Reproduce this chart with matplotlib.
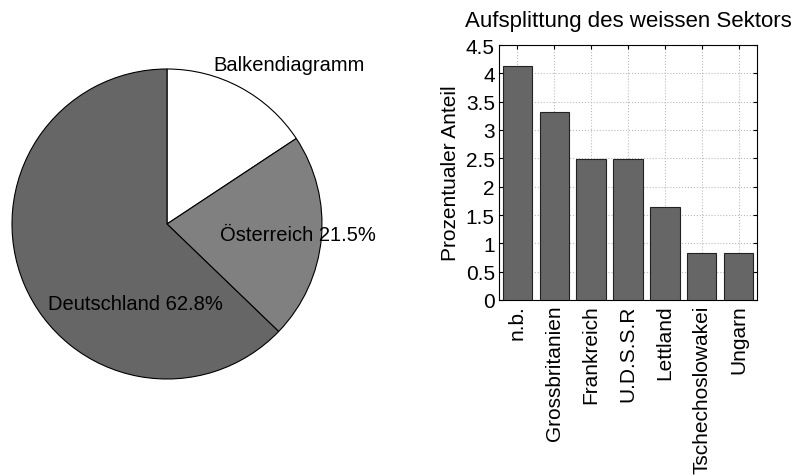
import numpy as np
import matplotlib.pyplot as plt

plt.rcParams['font.family'] = ['Liberation Sans', 'DejaVu Sans']

# Tortendiagramm
pie_names = ['Balkendiagramm', 'Österreich', 'Deutschland']
pie_values = [15.7, 21.5, 62.8]
pie_colors = ['#ffffff', '#808080', '#666666']

# Aufsplittung des weissen Sektors
bar_names = ['n.b.', 'Grossbritanien', 'Frankreich', 'U.D.S.S.R', 'Lettland',
             'Tschechoslowakei', 'Ungarn']
bar_values = [4.13, 3.31, 2.48, 2.48, 1.65, 0.83, 0.83]

fig = plt.figure(figsize=(8, 4.77), dpi=100)

# pie
ax1 = fig.add_axes([12 / 800, (477 - 225 - 155) / 477, 310 / 800, 310 / 477])
ax1.pie(pie_values, colors=pie_colors, startangle=90, counterclock=False,
        radius=1, wedgeprops=dict(edgecolor='black', linewidth=0.8))
ax1.set_xlim(-1, 1)
ax1.set_ylim(-1, 1)
ax1.set_aspect('equal')
ax1.axis('off')

labels = [pie_names[0],
          '%s %.1f%%' % (pie_names[1], pie_values[1]),
          '%s %.1f%%' % (pie_names[2], pie_values[2])]
label_pos = [(0.297, 1.03), (0.342, -0.065), (-0.768, -0.516)]
for lab, (lx, ly) in zip(labels, label_pos):
    ax1.text(lx, ly, lab, fontsize=14.5, ha='left', va='center', clip_on=False)

# bars
ax2 = fig.add_axes([499 / 800, 1 - 301 / 477, 258 / 800, 255 / 477])
x = np.arange(1, len(bar_values) + 1)
ax2.bar(x, bar_values, width=0.8, color='#666666', edgecolor='#222222',
        linewidth=0.8, zorder=3)
ax2.set_xlim(0.5, len(bar_values) + 0.5)
ax2.set_ylim(0, 4.5)
ax2.set_yticks(np.arange(0, 4.51, 0.5))
ax2.set_yticklabels(['0', '0.5', '1', '1.5', '2', '2.5', '3', '3.5', '4', '4.5'])
ax2.set_xticks(x)
ax2.set_xticklabels(bar_names, rotation=90)
ax2.tick_params(direction='in', labelsize=15, length=3, top=True, right=True,
                pad=3)
ax2.grid(True, linestyle=':', color='#bbbbbb', linewidth=0.8, zorder=0)
ax2.set_axisbelow(True)
ax2.set_ylabel('Prozentualer Anteil', fontsize=15, labelpad=4)
ax2.set_title('Aufsplittung des weissen Sektors', fontsize=16, pad=14)

fig.savefig('out.png', dpi=100)
